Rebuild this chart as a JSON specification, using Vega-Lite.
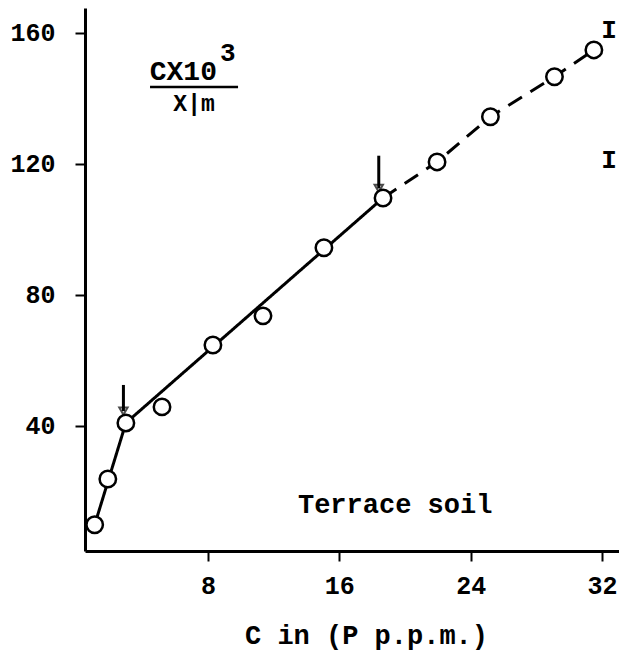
{
  "$schema": "https://vega.github.io/schema/vega-lite/v6.json",
  "autosize": "none",
  "width": 534,
  "height": 543,
  "padding": {"left": 85, "top": 8, "right": 0, "bottom": 102},
  "background": "white",
  "config": {
    "view": {"stroke": null},
    "font": "Liberation Mono",
    "axis": {
      "grid": false,
      "domainColor": "black",
      "domainWidth": 3,
      "tickColor": "black",
      "tickWidth": 2,
      "tickSize": 10,
      "labelFont": "Liberation Mono",
      "labelFontSize": 25,
      "labelFontWeight": "bold",
      "labelColor": "black",
      "titleFont": "Liberation Mono",
      "titleFontSize": 27,
      "titleFontWeight": "bold",
      "titleColor": "black"
    }
  },
  "datasets": {
    "points": [
      {"c": 1.1, "ratio": 9.8},
      {"c": 1.9, "ratio": 23.8},
      {"c": 3.0, "ratio": 40.9},
      {"c": 5.2, "ratio": 45.8},
      {"c": 8.3, "ratio": 64.7},
      {"c": 11.35, "ratio": 73.6},
      {"c": 15.06, "ratio": 94.4},
      {"c": 18.66, "ratio": 109.6},
      {"c": 21.95, "ratio": 120.6},
      {"c": 25.2, "ratio": 134.4},
      {"c": 29.1, "ratio": 146.6},
      {"c": 31.5, "ratio": 154.8}
    ],
    "lines": [
      {"seg": "a", "style": "solid", "c": 1.1, "ratio": 9.8},
      {"seg": "a", "style": "solid", "c": 3.0, "ratio": 40.9},
      {"seg": "b", "style": "solid", "c": 3.0, "ratio": 40.9},
      {"seg": "b", "style": "solid", "c": 18.66, "ratio": 109.6},
      {"seg": "c", "style": "dashed", "c": 18.66, "ratio": 109.6},
      {"seg": "c", "style": "dashed", "c": 21.95, "ratio": 120.6},
      {"seg": "c", "style": "dashed", "c": 25.2, "ratio": 134.4},
      {"seg": "c", "style": "dashed", "c": 29.1, "ratio": 146.6},
      {"seg": "c", "style": "dashed", "c": 31.5, "ratio": 154.8}
    ],
    "arrows": [
      {"c": 2.85, "top": 52.5, "bottom": 44.5},
      {"c": 18.4, "top": 122.5, "bottom": 112.5}
    ],
    "labels": [
      {"c": 19.4, "ratio": 15.9, "text": "Terrace soil", "size": 27, "align": "center"},
      {"c": 6.5, "ratio": 148.0, "text": "CX10", "size": 28, "align": "center"},
      {"c": 9.2, "ratio": 153.8, "text": "3", "size": 26, "align": "center"},
      {"c": 7.15, "ratio": 138.3, "text": "X|m", "size": 23, "align": "center"},
      {"c": 32.42, "ratio": 160.9, "text": "I", "size": 26, "align": "left"},
      {"c": 32.42, "ratio": 121.2, "text": "I", "size": 26, "align": "left"}
    ],
    "fraction": [
      {"c": 4.47, "c2": 9.83, "ratio": 143.5}
    ]
  },
  "layer": [
    {
      "data": {"name": "lines"},
      "mark": {"type": "line", "color": "black", "strokeWidth": 3},
      "encoding": {
        "x": {"field": "c", "type": "quantitative", "scale": {"domain": [0.51, 33.03], "nice": false, "zero": false},
              "axis": {"values": [8, 16, 24, 32], "title": "C in (P p.p.m.)", "labelPadding": 12,
                        "titleX": 281, "titleY": 84, "titleBaseline": "middle", "titleAnchor": "middle", "titleAlign": "center"}},
        "y": {"field": "ratio", "type": "quantitative", "scale": {"domain": [1.8, 167.6], "nice": false, "zero": false},
              "axis": {"values": [40, 80, 120, 160], "title": null, "labelPadding": 20}},
        "detail": {"field": "seg"},
        "strokeDash": {"field": "style", "type": "nominal", "scale": {"domain": ["solid", "dashed"], "range": [[1, 0], [16, 10]]}, "legend": null}
      }
    },
    {
      "data": {"name": "arrows"},
      "mark": {"type": "rule", "color": "black", "strokeWidth": 3},
      "encoding": {
        "x": {"field": "c", "type": "quantitative"},
        "y": {"field": "top", "type": "quantitative"},
        "y2": {"field": "bottom"}
      }
    },
    {
      "data": {"name": "arrows"},
      "mark": {"type": "point", "shape": "triangle-down", "filled": false, "color": "black", "strokeWidth": 2, "size": 70},
      "encoding": {
        "x": {"field": "c", "type": "quantitative"},
        "y": {"field": "bottom", "type": "quantitative"}
      }
    },
    {
      "data": {"name": "points"},
      "mark": {"type": "point", "shape": "circle", "filled": false, "fill": "white", "fillOpacity": 1, "stroke": "black", "strokeWidth": 2.5, "size": 270},
      "encoding": {
        "x": {"field": "c", "type": "quantitative"},
        "y": {"field": "ratio", "type": "quantitative"}
      }
    },
    {
      "data": {"name": "fraction"},
      "mark": {"type": "rule", "color": "black", "strokeWidth": 2.5},
      "encoding": {
        "x": {"field": "c", "type": "quantitative"},
        "x2": {"field": "c2"},
        "y": {"field": "ratio", "type": "quantitative"}
      }
    },
    {
      "data": {"name": "labels"},
      "mark": {"type": "text", "font": "Liberation Mono", "fontWeight": "bold", "color": "black", "baseline": "middle"},
      "encoding": {
        "x": {"field": "c", "type": "quantitative"},
        "y": {"field": "ratio", "type": "quantitative"},
        "text": {"field": "text"},
        "align": {"field": "align", "type": "nominal", "scale": null},
        "size": {"field": "size", "type": "quantitative", "scale": null}
      }
    }
  ]
}
